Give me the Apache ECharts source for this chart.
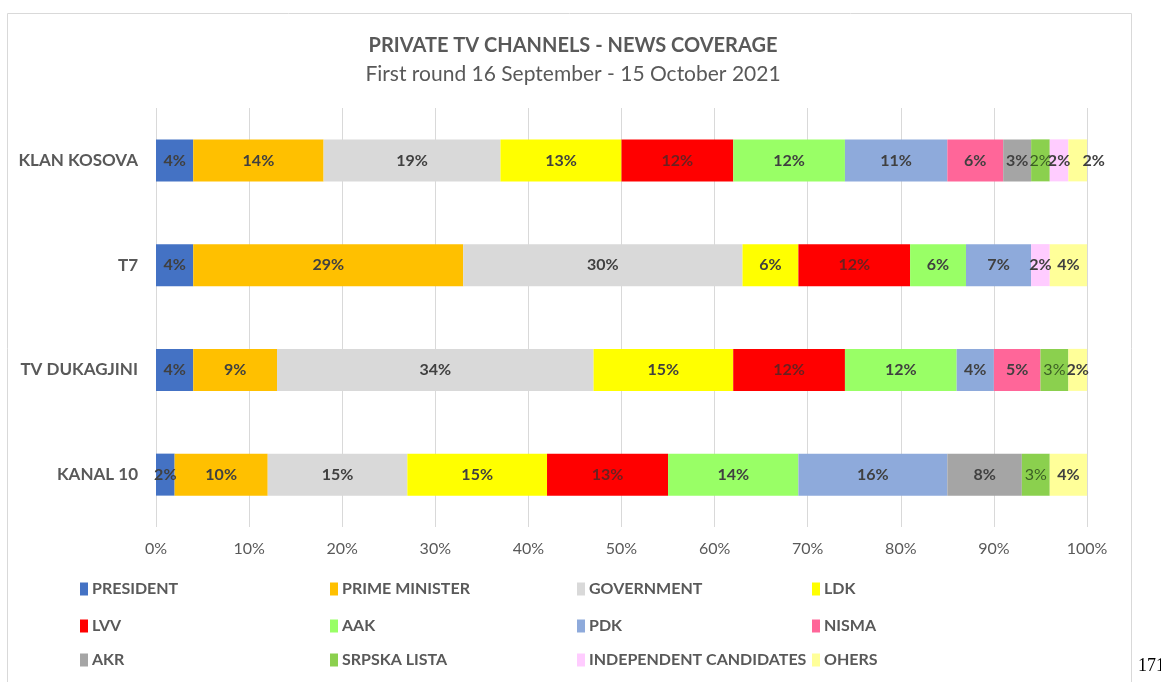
<!DOCTYPE html>
<html>
<head>
<meta charset="utf-8">
<script src="https://cdn.jsdelivr.net/npm/echarts@6/dist/echarts.min.js"></script>
<style>
  html, body { margin: 0; padding: 0; background: #fff; }
  #main { width: 1161px; height: 682px; }
</style>
</head>
<body>
<div id="main"></div>
<script>
// channels, top to bottom
const channels = ['KLAN KOSOVA', 'T7', 'TV DUKAGJINI', 'KANAL 10'];

// share of news coverage (%) per channel, same order as channels
const president     = [4, 4, 4, 2];
const primeMinister = [14, 29, 9, 10];
const government    = [19, 30, 34, 15];
const ldk           = [13, 6, 15, 15];
const lvv           = [12, 12, 12, 13];
const aak           = [12, 6, 12, 14];
const pdk           = [11, 7, 4, 16];
const nisma         = [6, 0, 5, 0];
const akr           = [3, 0, 0, 8];
const srpskaLista   = [2, 0, 3, 3];
const independent   = [2, 2, 0, 0];
const others        = [2, 4, 2, 4];

const xTicks = [0, 10, 20, 30, 40, 50, 60, 70, 80, 90, 100];

const seriesDefs = [
  { name: 'PRESIDENT', data: president, color: '#4472c4' },
  { name: 'PRIME MINISTER', data: primeMinister, color: '#ffc000' },
  { name: 'GOVERNMENT', data: government, color: '#d9d9d9' },
  { name: 'LDK', data: ldk, color: '#ffff00' },
  { name: 'LVV', data: lvv, color: '#ff0000' },
  { name: 'AAK', data: aak, color: '#99ff66' },
  { name: 'PDK', data: pdk, color: '#8eaadb' },
  { name: 'NISMA', data: nisma, color: '#ff6699' },
  { name: 'AKR', data: akr, color: '#a5a5a5' },
  { name: 'SRPSKA LISTA', data: srpskaLista, color: '#8bd04e' },
  { name: 'INDEPENDENT CANDIDATES', data: independent, color: '#ffccff' },
  { name: 'OHERS', data: others, color: '#ffff99' }
];

// legend grid: 4 columns x 3 rows
const legendCols = [80, 330, 577, 812];
const legendRows = [581, 618, 652];

const FONT = 'Lato, "Open Sans", sans-serif';
const chart = echarts.init(document.getElementById('main'));

const series = seriesDefs.map(function (s, i) {
  // KLAN KOSOVA "others" label sits just outside the bar in the original
  const data = s.data.map(function (v, j) {
    if (s.name === 'OHERS' && j === 0) {
      return { value: v, label: { offset: [16, 0] } };
    }
    return v;
  });
  return {
    name: s.name,
    type: 'bar',
    stack: 'total',
    barWidth: 42,
    itemStyle: { color: s.color },
    label: {
      show: true,
      position: 'inside',
      fontFamily: FONT,
      fontSize: 16,
      fontWeight: s.name === 'SRPSKA LISTA' ? 'normal' : 'bold',
      color: s.name === 'SRPSKA LISTA' ? '#3b5e24' : (s.name === 'LVV' ? 'rgba(70,40,40,0.8)' : '#404040'),
      formatter: function (p) { return p.value ? p.value + '%' : ''; }
    },
    data: data
  };
});

const legends = seriesDefs.map(function (s, i) {
  return {
    data: [s.name],
    left: legendCols[i % 4],
    top: legendRows[Math.floor(i / 4)],
    padding: 0,
    icon: 'rect',
    itemWidth: 8,
    itemHeight: 13,
    itemGap: 6,
    textStyle: { fontFamily: FONT, fontSize: 16, fontWeight: 'bold', color: '#595959', padding: [0, 0, 0, -1] },
    selectedMode: false
  };
});

const option = {
  animation: false,
  title: [
    {
      text: 'PRIVATE TV CHANNELS - NEWS COVERAGE',
      left: 568, top: 31, textAlign: 'center',
      textStyle: { fontFamily: FONT, fontSize: 20, fontWeight: 'bold', color: '#595959' }
    },
    {
      text: 'First round 16 September - 15 October 2021',
      left: 568, top: 59, textAlign: 'center',
      textStyle: { fontFamily: FONT, fontSize: 21, fontWeight: 'normal', color: '#595959' }
    }
  ],
  legend: legends,
  grid: { left: 156, right: 74, top: 108, bottom: 155 },
  xAxis: {
    type: 'value',
    min: xTicks[0],
    max: xTicks[xTicks.length - 1],
    interval: xTicks[1] - xTicks[0],
    axisLine: { show: false },
    axisTick: { show: false },
    splitLine: { lineStyle: { color: '#d9d9d9', width: 1 } },
    axisLabel: {
      fontFamily: FONT, fontSize: 16, color: '#595959', margin: 14,
      formatter: '{value}%'
    }
  },
  yAxis: {
    type: 'category',
    data: channels,
    inverse: true,
    axisLine: { show: false },
    axisTick: { show: false },
    axisLabel: {
      fontFamily: FONT, fontSize: 17, fontWeight: 'bold', color: '#595959', margin: 18
    }
  },
  graphic: [
    {
      type: 'rect',
      shape: { x: 7.5, y: 13.5, width: 1124, height: 700 },
      style: { fill: 'none', stroke: '#d9d9d9', lineWidth: 1 },
      silent: true
    },
    {
      type: 'text',
      left: 1138, top: 657,
      style: { text: '171', font: '18px "Liberation Serif", serif', fill: '#000' }
    }
  ],
  series: series
};

chart.setOption(option);
</script>
</body>
</html>
